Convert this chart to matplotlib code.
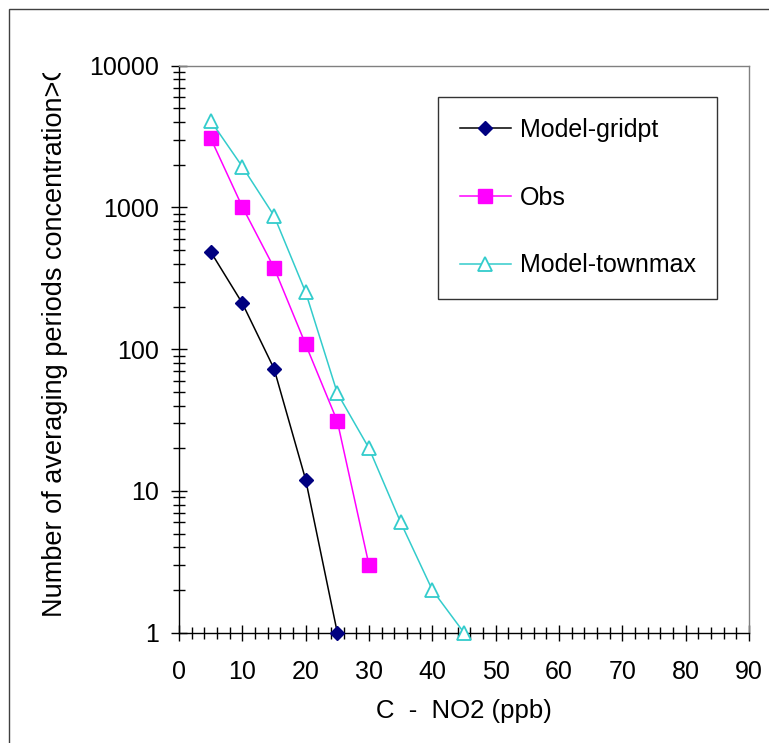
import matplotlib
matplotlib.use("Agg")
import matplotlib.pyplot as plt
from matplotlib.patches import Rectangle
from matplotlib.ticker import MultipleLocator, LogLocator, NullFormatter, FixedLocator
from matplotlib.transforms import Bbox, TransformedBbox

plt.rcParams["font.family"] = ["Liberation Sans", "DejaVu Sans"]

# ── data ────────────────────────────────────────────────────────────────────
conc_gridpt = [5, 10, 15, 20, 25]
gridpt = [487, 211, 73, 12, 1]

conc_obs = [5, 10, 15, 20, 25, 30]
obs = [3080, 1010, 376, 108, 31, 3]

conc_town = [5, 10, 15, 20, 25, 30, 35, 40, 45]
townmax = [4090, 1940, 875, 252, 49, 20, 6, 2, 1]

x_ticks = [0, 10, 20, 30, 40, 50, 60, 70, 80, 90]
y_ticks = [1, 10, 100, 1000, 10000]
y_ticklabels = ["1", "10", "100", "1000", "10000"]

W, H = 769, 743
fig = plt.figure(figsize=(W / 100, H / 100), dpi=100)

# outer chart-area frame (clipped on right/bottom like the source)
fig.patches.append(Rectangle((8.5 / W, -0.05), 1.2, (H - 8.5) / H + 0.05,
                             transform=fig.transFigure, fill=False,
                             edgecolor="#404040", linewidth=1.0))

ax = fig.add_axes([179 / W, (H - 632.7) / H, 570 / W, 567 / H])

ax.plot(conc_gridpt, gridpt, color="black", lw=1.1, marker="D", ms=7,
        mfc="#000080", mec="#000080", label="Model-gridpt", clip_on=False, zorder=3)
ax.plot(conc_obs, obs, color="#FF00FF", lw=1.1, marker="s", ms=9.5,
        mfc="#FF00FF", mec="#FF00FF", label="Obs", clip_on=False, zorder=3)
ax.plot(conc_town, townmax, color="#33CCCC", lw=1.1, marker="^", ms=9.5,
        mfc="white", mec="#33CCCC", mew=1.3, label="Model-townmax", clip_on=False, zorder=3)

ax.set_yscale("log")
ax.set_xlim(0, 90)
ax.set_ylim(1, 10000)

ax.xaxis.set_major_locator(FixedLocator(x_ticks))
ax.xaxis.set_minor_locator(MultipleLocator(2))
ax.yaxis.set_major_locator(FixedLocator(y_ticks))
ax.yaxis.set_minor_locator(LogLocator(base=10, subs=range(2, 10)))
ax.yaxis.set_minor_formatter(NullFormatter())
ax.set_yticklabels(y_ticklabels)

ax.tick_params(axis="both", which="major", direction="inout", length=11, width=1.0,
               labelsize=18, color="black")
ax.tick_params(axis="both", which="minor", direction="inout", length=8, width=1.0,
               color="black")
ax.tick_params(axis="x", which="major", pad=14)
ax.tick_params(axis="y", which="major", pad=9)

for side in ("top", "right"):
    ax.spines[side].set_color("#808080")
    ax.spines[side].set_linewidth(1.0)
for side in ("left", "bottom"):
    ax.spines[side].set_color("black")
    ax.spines[side].set_linewidth(1.0)

ax.set_xlabel("C  -  NO2 (ppb)", fontsize=18.5, labelpad=11)

# y label, cut off at the top like in the source
ylab = fig.text(55 / W, (H - 617) / H, "Number of averaging periods concentration>C",
                rotation=90, ha="center", va="bottom", fontsize=19.5)
ylab.set_clip_box(TransformedBbox(Bbox([[0, 0], [1, (H - 73) / H]]), fig.transFigure))
ylab.set_clip_on(True)

leg = ax.legend(loc="upper left", bbox_to_anchor=(0.455, 0.9453), borderaxespad=0,
                fontsize=18, frameon=True, fancybox=False, edgecolor="black",
                handlelength=2.04, handletextpad=0.36, labelspacing=1.75,
                borderpad=0.85)
leg.get_frame().set_linewidth(1.0)

fig.savefig("out.png", dpi=100)
